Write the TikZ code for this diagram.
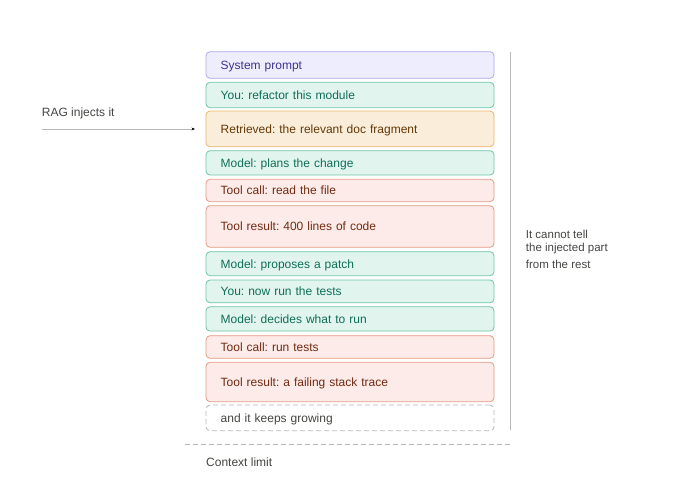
\documentclass[tikz,border=0pt]{standalone}
\usepackage{fontspec}
\setmainfont{Liberation Sans}
\frenchspacing
\usetikzlibrary{arrows.meta}
\definecolor{lavfill}{HTML}{EEEDFE}
\definecolor{lavline}{HTML}{AFA9EC}
\definecolor{lavtext}{HTML}{3C3489}
\definecolor{grnfill}{HTML}{E1F5EE}
\definecolor{grnline}{HTML}{6CC5A4}
\definecolor{grntext}{HTML}{0F6E56}
\definecolor{ambfill}{HTML}{FAEEDA}
\definecolor{ambline}{HTML}{E8B56A}
\definecolor{ambtext}{HTML}{633806}
\definecolor{corfill}{HTML}{FCEBE8}
\definecolor{corline}{HTML}{E59A85}
\definecolor{cortext}{HTML}{712B13}
\definecolor{inktext}{HTML}{444441}
\definecolor{rulegray}{HTML}{B8B8B8}
\tikzset{
  msg/.style={draw, rounded corners=4pt, line width=0.8pt, inner xsep=14.7pt,
    text width=258.6pt, align=left, text height=8.6pt, text depth=0pt,
    font=\fontsize{12}{14}\selectfont},
  sysmsg/.style={msg, fill=lavfill, draw=lavline, text=lavtext},
  usermsg/.style={msg, fill=grnfill, draw=grnline, text=grntext},
  ragmsg/.style={msg, fill=ambfill, draw=ambline, text=ambtext},
  toolmsg/.style={msg, fill=corfill, draw=corline, text=cortext},
  moremsg/.style={msg, draw=rulegray, dash pattern=on 5pt off 3pt, text=inktext},
  note/.style={text=inktext, font=\fontsize{12}{14}\selectfont, inner sep=0pt}
}
\begin{document}
\begin{tikzpicture}[x=1pt, y=-1pt]
    \useasboundingbox (0,0) rectangle (700,484);
    \node[sysmsg, minimum height=26.6pt] (sys) at (350,65) {System prompt};
    \node[usermsg, minimum height=25.4pt] (ask) at (350,95) {You: refactor this module};
    \node[ragmsg, minimum height=35.7pt] (ret) at (350,128.9) {Retrieved: the relevant doc fragment};
    \node[usermsg, minimum height=24.3pt] (plan) at (350,162.9) {Model: plans the change};
    \node[toolmsg, minimum height=22.4pt] (call1) at (350,190.5) {Tool call: read the file};
    \node[toolmsg, minimum height=41.6pt] (res1) at (350,226.5) {Tool result: 400 lines of code};
    \node[usermsg, minimum height=24pt] (patch) at (350,263.7) {Model: proposes a patch};
    \node[usermsg, minimum height=22.7pt] (run) at (350,291.4) {You: now run the tests};
    \node[usermsg, minimum height=24.3pt] (pick) at (350,318.9) {Model: decides what to run};
    \node[toolmsg, minimum height=22.6pt] (call2) at (350,347) {Tool call: run tests};
    \node[toolmsg, minimum height=39.4pt] (res2) at (350,382) {Tool result: a failing stack trace};
    \node[moremsg, minimum height=25.7pt] (more) at (350,417.9) {and it keeps growing};
    % left side
    \node[note, anchor=base west] (rag) at (41.7,116) {RAG injects it};
    \coordinate (ragstart) at (41.7,129);
    \coordinate (ragend) at (195,129);
    \draw[rulegray, line width=0.7pt, -{Stealth[length=3.5pt, width=2.8pt, color=black]}] (ragstart) -- (ragend);
    % right side
    \coordinate (sidetop) at (510.7,52);
    \coordinate (sidebot) at (510.7,430);
    \draw[rulegray, line width=0.8pt] (sidetop) -- (sidebot);
    \node[note, anchor=west, align=left, font=\fontsize{11.5}{12.7}\selectfont] (side) at (525.7,249.3)
      {It cannot tell\\the injected part\\[3.9pt]from the rest};
    % bottom
    \coordinate (limleft) at (185,444);
    \coordinate (limright) at (510,444);
    \draw[rulegray, line width=0.8pt, dash pattern=on 5pt off 3pt] (limleft) -- (limright);
    \node[note, anchor=base west] (lim) at (206,466) {Context limit};
  \end{tikzpicture}
\end{document}
